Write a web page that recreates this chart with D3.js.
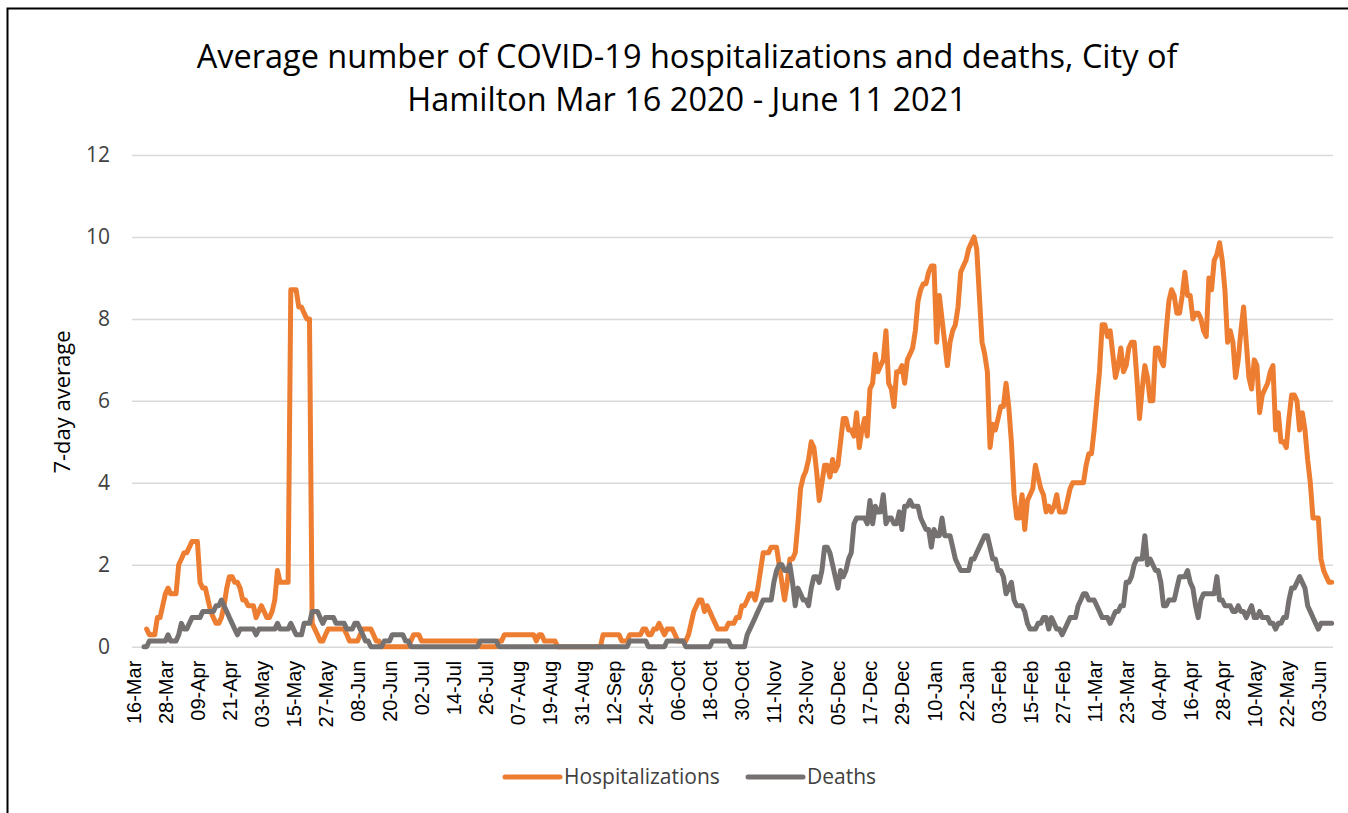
<!DOCTYPE html>
<html>
<head>
<meta charset="utf-8">
<script src="https://cdn.jsdelivr.net/npm/d3@7"></script>
<style>
  body { margin: 0; background: #fff; }
  svg { display: block; }
</style>
</head>
<body>
<svg id="chart" width="1348" height="813"></svg>
<script>
// 7-day averages, one value per day from 16-Mar-2020
const tickLabels = ['16-Mar','28-Mar','09-Apr','21-Apr','03-May','15-May','27-May','08-Jun','20-Jun','02-Jul',
  '14-Jul','26-Jul','07-Aug','19-Aug','31-Aug','12-Sep','24-Sep','06-Oct','18-Oct','30-Oct',
  '11-Nov','23-Nov','05-Dec','17-Dec','29-Dec','10-Jan','22-Jan','03-Feb','15-Feb','27-Feb',
  '11-Mar','23-Mar','04-Apr','16-Apr','28-Apr','10-May','22-May','03-Jun'];
const tickEvery = 12;
const yTicks = [0, 2, 4, 6, 8, 10, 12];

const hospitalizations = [
  null,null,null,null,null,0.43,0.29,0.29,0.29,0.71,
  0.71,1.0,1.29,1.43,1.29,1.29,1.29,2.0,2.14,2.29,
  2.29,2.43,2.57,2.57,2.57,1.57,1.43,1.43,1.14,0.86,
  0.71,0.57,0.57,0.71,1.0,1.43,1.71,1.71,1.57,1.57,
  1.43,1.14,1.14,1.0,1.0,1.0,0.71,0.86,1.0,0.86,
  0.71,0.71,0.86,1.14,1.86,1.57,1.57,1.57,1.57,8.71,
  8.71,8.71,8.29,8.29,8.14,8.0,8.0,0.57,0.43,0.29,
  0.14,0.14,0.29,0.43,0.43,0.43,0.43,0.43,0.43,0.43,
  0.29,0.14,0.14,0.14,0.14,0.29,0.43,0.43,0.43,0.43,
  0.29,0.14,0.14,0,0,0,0,0,0,0,
  0,0,0,0,0.14,0.29,0.29,0.29,0.14,0.14,
  0.14,0.14,0.14,0.14,0.14,0.14,0.14,0.14,0.14,0.14,
  0.14,0.14,0.14,0.14,0.14,0.14,0.14,0.14,0.14,0.14,
  0,0,0,0,0,0,0,0.14,0.14,0.29,
  0.29,0.29,0.29,0.29,0.29,0.29,0.29,0.29,0.29,0.29,
  0.29,0.14,0.29,0.29,0.14,0.14,0.14,0.14,0.14,0,
  0,0,0,0,0,0,0,0,0,0,
  0,0,0,0,0,0,0.29,0.29,0.29,0.29,
  0.29,0.29,0.29,0.14,0.14,0.14,0.29,0.29,0.29,0.29,
  0.29,0.43,0.43,0.29,0.29,0.43,0.43,0.57,0.43,0.29,
  0.43,0.43,0.43,0.29,0.14,0.14,0.14,0.14,0.29,0.57,
  0.86,1.0,1.14,1.14,0.86,1.0,0.86,0.71,0.57,0.43,
  0.43,0.43,0.43,0.57,0.57,0.57,0.71,0.71,1.0,1.0,
  1.14,1.29,1.29,1.14,1.43,1.86,2.29,2.29,2.29,2.43,
  2.43,2.43,2.0,1.57,1.14,1.57,2.14,2.14,2.29,3.0,
  3.86,4.14,4.29,4.57,5.0,4.86,4.29,3.57,4.0,4.43,
  4.43,4.14,4.57,4.29,4.43,5.0,5.57,5.57,5.29,5.29,
  5.14,5.71,4.86,5.29,5.57,5.14,6.29,6.43,7.14,6.71,
  6.86,7.0,7.71,6.43,6.29,5.86,6.71,6.71,6.86,6.43,
  7.0,7.14,7.29,7.71,8.43,8.71,8.86,8.86,9.14,9.29,
  9.29,7.43,8.57,8.0,7.43,6.86,7.43,7.71,7.86,8.29,
  9.14,9.29,9.43,9.71,9.86,10.0,9.71,8.57,7.43,7.14,
  6.71,4.86,5.43,5.29,5.57,5.86,5.86,6.43,5.86,5.0,
  3.71,3.14,3.14,3.71,2.86,3.57,3.71,3.86,4.43,4.14,
  3.86,3.71,3.29,3.43,3.29,3.43,3.71,3.29,3.29,3.29,
  3.57,3.86,4.0,4.0,4.0,4.0,4.0,4.43,4.71,4.71,
  5.29,6.0,6.71,7.86,7.86,7.57,7.71,7.14,6.57,6.86,
  7.29,6.71,6.86,7.29,7.43,7.43,6.57,5.57,6.29,6.86,
  6.57,6.0,6.0,7.29,7.29,7.0,6.86,7.71,8.43,8.71,
  8.57,8.14,8.14,8.57,9.14,8.57,8.57,8.0,8.14,8.14,
  8.0,7.71,7.57,9.0,8.71,9.43,9.57,9.86,9.43,8.71,
  7.43,7.71,7.43,6.57,7.0,7.71,8.29,7.43,6.57,6.29,
  7.0,6.86,5.71,6.14,6.29,6.43,6.71,6.86,5.29,5.71,
  5.0,5.0,4.86,5.57,6.14,6.14,6.0,5.29,5.71,5.29,
  4.57,4.0,3.14,3.14,3.14,2.14,1.86,1.71,1.57,1.57
];

const deaths = [
  null,null,null,null,0,0,0.14,0.14,0.14,0.14,
  0.14,0.14,0.14,0.29,0.14,0.14,0.14,0.29,0.57,0.43,
  0.43,0.57,0.71,0.71,0.71,0.71,0.86,0.86,0.86,0.86,
  0.86,1.0,1.0,1.14,1.0,0.86,0.71,0.57,0.43,0.29,
  0.43,0.43,0.43,0.43,0.43,0.43,0.29,0.43,0.43,0.43,
  0.43,0.43,0.43,0.43,0.57,0.43,0.43,0.43,0.43,0.57,
  0.43,0.29,0.29,0.29,0.57,0.57,0.57,0.86,0.86,0.86,
  0.71,0.57,0.71,0.71,0.71,0.71,0.57,0.57,0.57,0.57,
  0.43,0.43,0.43,0.57,0.57,0.43,0.29,0.14,0.14,0,
  0,0,0,0,0.14,0.14,0.14,0.29,0.29,0.29,
  0.29,0.29,0.14,0.14,0,0,0,0,0,0,
  0,0,0,0,0,0,0,0,0,0,
  0,0,0,0,0,0,0,0,0,0,
  0.14,0.14,0.14,0.14,0.14,0.14,0.14,0,0,0,
  0,0,0,0,0,0,0,0,0,0,
  0,0,0,0,0,0,0,0,0,0,
  0,0,0,0,0,0,0,0,0,0,
  0,0,0,0,0,0,0,0,0,0,
  0,0,0,0,0,0,0.14,0.14,0.14,0.14,
  0.14,0.14,0.14,0,0,0,0,0,0,0,
  0.14,0.14,0.14,0.14,0.14,0.14,0.14,0,0,0,
  0,0,0,0,0,0,0,0.14,0.14,0.14,
  0.14,0.14,0.14,0.14,0,0,0,0,0,0,
  0.29,0.43,0.57,0.71,0.86,1.0,1.14,1.14,1.14,1.14,
  1.57,1.86,2.0,2.0,1.86,1.86,2.0,1.57,1.0,1.43,
  1.29,1.14,1.14,1.0,1.43,1.71,1.71,1.57,1.86,2.43,
  2.43,2.29,2.0,1.71,1.43,1.86,1.71,1.86,2.14,2.29,
  3.0,3.14,3.14,3.14,3.14,3.0,3.57,3.0,3.43,3.29,
  3.29,3.71,3.0,3.14,3.14,3.0,3.0,3.29,2.86,3.43,
  3.43,3.57,3.43,3.43,3.43,3.14,3.0,2.86,2.86,2.43,
  2.86,2.71,2.71,3.14,2.71,2.71,2.71,2.43,2.14,2.0,
  1.86,1.86,1.86,1.86,2.14,2.14,2.29,2.43,2.57,2.71,
  2.71,2.43,2.14,2.14,1.86,1.86,1.71,1.29,1.43,1.57,
  1.14,1.0,1.0,1.0,0.86,0.57,0.43,0.43,0.43,0.57,
  0.57,0.71,0.71,0.43,0.71,0.57,0.43,0.43,0.29,0.43,
  0.57,0.71,0.71,0.71,1.0,1.14,1.29,1.29,1.14,1.14,
  1.14,1.0,0.86,0.71,0.71,0.71,0.57,0.71,0.86,0.86,
  1.0,1.0,1.57,1.57,1.71,2.0,2.14,2.14,2.14,2.71,
  2.0,2.14,2.0,1.86,1.86,1.57,1.0,1.0,1.14,1.14,
  1.14,1.43,1.71,1.71,1.71,1.86,1.57,1.43,1.0,0.71,
  1.14,1.29,1.29,1.29,1.29,1.29,1.71,1.14,1.14,1.0,
  1.0,1.0,0.86,0.86,1.0,0.86,0.86,0.71,0.86,1.0,
  0.71,0.71,0.86,0.71,0.71,0.71,0.57,0.57,0.43,0.57,
  0.57,0.71,0.71,1.14,1.43,1.43,1.57,1.71,1.57,1.43,
  1.0,0.86,0.71,0.57,0.43,0.57,0.57,0.57,0.57,0.57
];

const series = [
  { name: 'Hospitalizations', values: hospitalizations, color: '#ED7D31' },
  { name: 'Deaths', values: deaths, color: '#767171' }
];

const svg = d3.select('#chart');
const font = "'Open Sans', sans-serif";

// chart border (runs off the right and bottom edge like the screenshot)
svg.append('rect')
  .attr('x', 7.5).attr('y', 8.5)
  .attr('width', 1360).attr('height', 820)
  .attr('fill', '#fff')
  .attr('stroke', '#000').attr('stroke-width', 2);

const plot = { left: 132, right: 1333, top: 155, bottom: 646.7 };
const days = d3.range(hospitalizations.length);
const step = (plot.right - plot.left) / days.length;

const x = d3.scalePoint()
  .domain(days)
  .range([plot.left + step / 2, plot.right - step / 2]);

const y = d3.scaleLinear()
  .domain([0, 12])
  .range([plot.bottom, plot.top]);

// gridlines + y labels
const yAxis = svg.append('g')
  .attr('transform', `translate(${plot.left},0)`)
  .call(d3.axisLeft(y).tickValues(yTicks).tickSize(-(plot.right - plot.left)).tickPadding(22));
yAxis.select('.domain').remove();
yAxis.selectAll('.tick line').attr('stroke', '#d9d9d9').attr('stroke-width', 1.5);
yAxis.selectAll('.tick text')
  .attr('fill', '#404040')
  .style('font', `21px ${font}`);

// x labels, rotated
const xAxis = svg.append('g')
  .attr('transform', `translate(0,${plot.bottom})`)
  .call(d3.axisBottom(x)
    .tickValues(days.filter(d => d % tickEvery === 0))
    .tickFormat(d => tickLabels[d / tickEvery])
    .tickSize(0));
xAxis.select('.domain').remove();
xAxis.selectAll('.tick text')
  .attr('transform', 'rotate(-90)')
  .attr('text-anchor', 'end')
  .attr('x', -14).attr('y', 0).attr('dy', '0.35em')
  .attr('fill', '#000')
  .style('font', "20px 'Liberation Sans', Arial, sans-serif");

// lines
const line = d3.line()
  .defined(d => d != null)
  .x((d, i) => x(i))
  .y(d => y(d));

svg.append('g')
  .selectAll('path')
  .data(series)
  .join('path')
    .attr('fill', 'none')
    .attr('stroke', d => d.color)
    .attr('stroke-width', 5)
    .attr('stroke-linejoin', 'round')
    .attr('stroke-linecap', 'round')
    .attr('d', d => line(d.values));

// title
const title = svg.append('text')
  .attr('text-anchor', 'middle')
  .attr('fill', '#000')
  .style('font', `32.5px ${font}`);
title.append('tspan').attr('x', 687).attr('y', 68)
  .text('Average number of COVID-19 hospitalizations and deaths, City of');
title.append('tspan').attr('x', 687).attr('y', 111)
  .text('Hamilton Mar 16 2020 - June 11 2021');

// y axis title
svg.append('text')
  .attr('transform', 'translate(70,402) rotate(-90)')
  .attr('text-anchor', 'middle')
  .attr('fill', '#000')
  .style('font', `22px ${font}`)
  .text('7-day average');

// legend
const legendX = [505, 748];
const legend = svg.append('g')
  .selectAll('g')
  .data(series)
  .join('g')
    .attr('transform', (d, i) => `translate(${legendX[i]},777)`);
legend.append('line')
  .attr('x1', 0).attr('x2', 55)
  .attr('stroke', d => d.color)
  .attr('stroke-width', 5)
  .attr('stroke-linecap', 'round');
legend.append('text')
  .attr('x', 59).attr('dy', '0.35em')
  .attr('fill', '#404040')
  .style('font', `21px ${font}`)
  .text(d => d.name);
</script>
</body>
</html>
